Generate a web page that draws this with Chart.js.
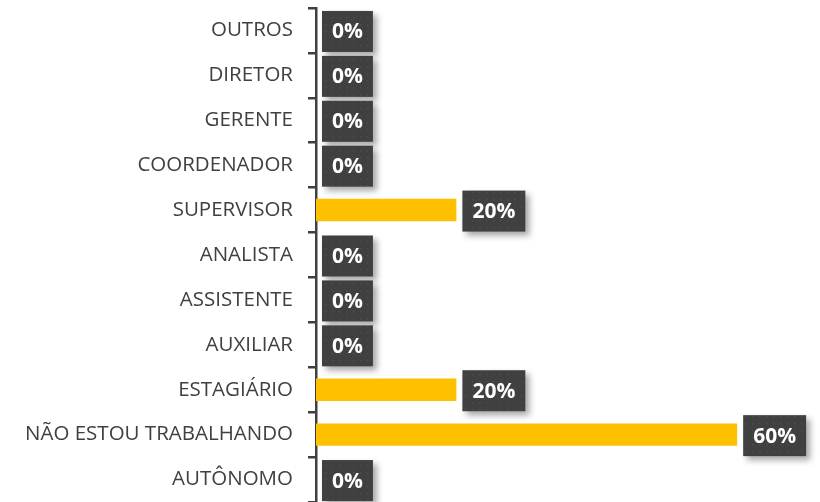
<!DOCTYPE html>
<html>
<head>
<meta charset="utf-8">
<script src="https://cdn.jsdelivr.net/npm/chart.js@4/dist/chart.umd.min.js"></script>
<style>
  html, body { margin: 0; padding: 0; background: #fff; }
  #wrap { width: 820px; height: 502px; }
</style>
</head>
<body>
<div id="wrap"><canvas id="cargos"></canvas></div>
<script>
const categorias = ['OUTROS','DIRETOR','GERENTE','COORDENADOR','SUPERVISOR','ANALISTA','ASSISTENTE','AUXILIAR','ESTAGIÁRIO','NÃO ESTOU TRABALHANDO','AUTÔNOMO']
const percentuais = [0,0,0,0,20,0,0,0,20,60,0]

// fundo pontilhado das etiquetas
const pontilhado = () => {
  const c = document.createElement('canvas')
  c.width = 7; c.height = 7
  const g = c.getContext('2d')
  g.fillStyle = '#404040'
  g.fillRect(0,0,7,7)
  g.fillStyle = '#4d4d4d'
  g.fillRect(3,3,1.5,1.5)
  return c
}

const etiquetas = {
  id: 'etiquetas',
  afterDatasetsDraw(chart){
    const ctx = chart.ctx
    const meta = chart.getDatasetMeta(0)
    const padrao = ctx.createPattern(pontilhado(),'repeat')
    ctx.save()
    ctx.font = 'bold 21px "Open Sans"'
    meta.data.forEach((bar,i) => {
      const txt = percentuais[i] + '%'
      const w = ctx.measureText(txt).width + 20
      const h = 41
      const x = bar.x + 6
      const y = bar.y + 1 - h/2
      ctx.save()
      ctx.shadowColor = 'rgba(0,0,0,0.35)'
      ctx.shadowBlur = 6
      ctx.shadowOffsetX = 4
      ctx.shadowOffsetY = 4
      ctx.fillStyle = padrao
      ctx.fillRect(x,y,w,h)
      ctx.restore()
      ctx.fillStyle = '#ffffff'
      ctx.textAlign = 'center'
      ctx.textBaseline = 'middle'
      ctx.fillText(txt, x + w/2, y + h/2 + 1)
    })
    ctx.restore()
  }
}

var ctx = document.getElementById('cargos').getContext('2d')
new Chart(ctx,{
  type:'bar',
  data:{
    labels: categorias,
    datasets:[{
      data: percentuais,
      backgroundColor:'#FFC000',
      categoryPercentage: 1,
      barPercentage: 0.5
    }]
  },
  options:{
    indexAxis:'y',
    responsive:true,
    maintainAspectRatio:false,
    animation:false,
    layout:{ padding:{ top:8, right:0, bottom:0, left:0 } },
    plugins:{
      legend:{ display:false },
      tooltip:{ enabled:false }
    },
    scales:{
      x:{
        display:false,
        min:0,
        max:71.8
      },
      y:{
        afterFit: s => {
          s.width = 316
          s.paddingTop = 0
          s.paddingBottom = 0
        },
        ticks:{
          color:'#404040',
          padding:15,
          font:{ family:'"Open Sans"', size:20.5 }
        },
        grid:{
          drawOnChartArea:false,
          tickLength:8,
          tickColor:'#404040',
          lineWidth:2.5
        },
        border:{ color:'#404040', width:2.5 }
      }
    }
  },
  plugins:[etiquetas]
})
</script>
</body>
</html>
